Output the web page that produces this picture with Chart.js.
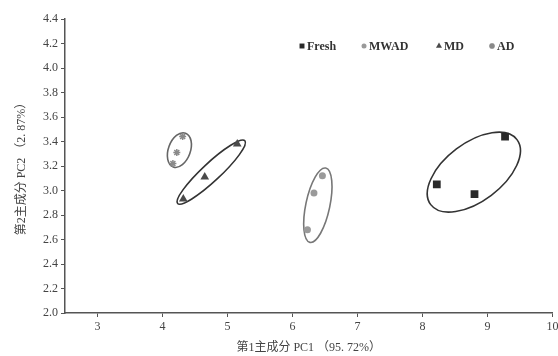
<!DOCTYPE html>
<html>
<head>
<meta charset="utf-8">
<script src="https://cdn.jsdelivr.net/npm/chart.js@4.4.1/dist/chart.umd.min.js"></script>
<style>
  html, body { margin: 0; padding: 0; background: #fff; }
</style>
</head>
<body>
<canvas id="chart" width="558" height="356"></canvas>
<script>
// Group names and PCA scores
const groups = ['Fresh', 'MWAD', 'MD', 'AD'];
const freshX = [8.22, 8.80, 9.27];
const freshY = [3.05, 2.97, 3.44];
const mwadX = [6.46, 6.33, 6.23];
const mwadY = [3.12, 2.98, 2.68];
const mdX = [5.15, 4.65, 4.32];
const mdY = [3.38, 3.11, 2.93];
const adX = [4.31, 4.22, 4.16];
const adY = [3.44, 3.31, 3.22];

const xTicks = [3, 4, 5, 6, 7, 8, 9, 10];
const yTicks = [2.0, 2.2, 2.4, 2.6, 2.8, 3.0, 3.2, 3.4, 3.6, 3.8, 4.0, 4.2, 4.4];

// centre of each group's confidence ellipse (data units), same order as groups
const ellipseX = [8.79, 6.39, 4.75, 4.26];
const ellipseY = [3.15, 2.88, 3.15, 3.33];

// ellipse look (pixels / degrees)
const ellipseStyle = [
  { rx: 54, ry: 29, rot: -37, color: '#333', width: 1.6 },
  { rx: 38, ry: 12, rot: -78, color: '#777', width: 1.6 },
  { rx: 46, ry: 9,  rot: -43, color: '#333', width: 1.6 },
  { rx: 18, ry: 11, rot: -70, color: '#666', width: 1.6 }
];

const font = "'Liberation Serif', 'Noto Sans CJK SC', serif";

function pts(xs, ys) {
  return xs.map((v, i) => ({ x: v, y: ys[i] }));
}

const ellipsePlugin = {
  id: 'ellipses',
  beforeDatasetsDraw(chart) {
    const ctx = chart.ctx;
    const xs = chart.scales.x, ys = chart.scales.y;
    ellipseX.forEach((cx, i) => {
      const s = ellipseStyle[i];
      ctx.save();
      ctx.beginPath();
      ctx.ellipse(xs.getPixelForValue(cx), ys.getPixelForValue(ellipseY[i]),
        s.rx, s.ry, s.rot * Math.PI / 180, 0, Math.PI * 2);
      ctx.lineWidth = s.width;
      ctx.strokeStyle = s.color;
      ctx.stroke();
      ctx.restore();
    });
  }
};

// small legend inside the plot, top right (marker x positions in px)
const legendSlots = [302, 364, 439, 492];
const legendPlugin = {
  id: 'innerLegend',
  afterDatasetsDraw(chart) {
    const ctx = chart.ctx;
    const y = 46;
    ctx.save();
    ctx.font = "bold 12px " + font;
    ctx.textBaseline = 'middle';
    chart.data.datasets.forEach((ds, i) => {
      const x = legendSlots[i];
      ctx.fillStyle = ds.backgroundColor;
      ctx.strokeStyle = ds.borderColor;
      ctx.lineWidth = ds.borderWidth;
      Chart.helpers.drawPoint(ctx, {
        pointStyle: ds.pointStyle,
        radius: ds.legendRadius,
        borderWidth: ds.borderWidth
      }, x, y);
      ctx.fillStyle = '#333';
      ctx.fillText(ds.label, x + 5, y + 1);
    });
    ctx.restore();
  }
};

new Chart(document.getElementById('chart'), {
  type: 'scatter',
  data: {
    datasets: [
      { label: groups[0], data: pts(freshX, freshY), pointStyle: 'rect', pointRadius: 5.5, legendRadius: 3.5,
        backgroundColor: '#2a2a2a', borderColor: '#2a2a2a', borderWidth: 0 },
      { label: groups[1], data: pts(mwadX, mwadY), pointStyle: 'circle', pointRadius: 3.5, legendRadius: 2.5,
        backgroundColor: '#9a9a9a', borderColor: '#9a9a9a', borderWidth: 0 },
      { label: groups[2], data: pts(mdX, mdY), pointStyle: 'triangle', pointRadius: 5, legendRadius: 3.5,
        backgroundColor: '#4a4a4a', borderColor: '#4a4a4a', borderWidth: 0 },
      { label: groups[3], data: pts(adX, adY), pointStyle: 'star', pointRadius: 3.5, legendRadius: 3,
        backgroundColor: '#8a8a8a', borderColor: '#8a8a8a', borderWidth: 1.5 }
    ]
  },
  options: {
    responsive: false,
    animation: false,
    layout: { padding: { top: 19, right: 5, left: 0, bottom: 0 } },
    plugins: {
      tooltip: { enabled: false },
      legend: { display: false }
    },
    scales: {
      x: {
        type: 'linear',
        min: 2.5,
        max: 10,
        afterBuildTicks: (s) => { s.ticks = xTicks.map(v => ({ value: v })); },
        afterFit: (s) => { s.height = 43; s.paddingLeft = 0; s.paddingRight = 0; },
        border: { color: '#555', width: 1.5 },
        grid: { drawOnChartArea: false, tickLength: 4, color: '#555' },
        ticks: { color: '#444', padding: 3, maxRotation: 0, font: { family: font, size: 12 } },
        title: {
          display: true,
          text: '第1主成分 PC1 （95. 72%）',
          color: '#444',
          padding: { top: 0, bottom: 1 },
          font: { family: font, size: 12 }
        }
      },
      y: {
        type: 'linear',
        min: 2.0,
        max: 4.4,
        afterBuildTicks: (s) => { s.ticks = yTicks.map(v => ({ value: v })); },
        afterFit: (s) => { s.width = 65; s.paddingTop = 0; s.paddingBottom = 0; },
        border: { color: '#555', width: 1.5 },
        grid: { drawOnChartArea: false, tickLength: 4, color: '#555' },
        ticks: {
          color: '#444', padding: 3,
          font: { family: font, size: 12 },
          callback: (v) => Number(v).toFixed(1)
        },
        title: {
          display: true,
          text: '第2主成分 PC2 （2. 87%）',
          color: '#444',
          padding: { top: 15, bottom: 0 },
          font: { family: font, size: 12 }
        }
      }
    }
  },
  plugins: [ellipsePlugin, legendPlugin]
});
</script>
</body>
</html>
